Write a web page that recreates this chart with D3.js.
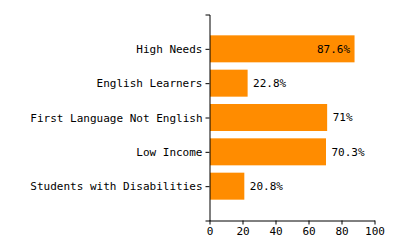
<!DOCTYPE html>
<html><head><meta charset="utf-8">
<script src="https://cdn.jsdelivr.net/npm/d3@7"></script>
<style>
body{margin:0;background:#fff;}
text{font-family:"DejaVu Sans Mono",monospace;font-size:11px;fill:#000;}
</style></head>
<body><svg id="c" width="400" height="250"></svg>
<script>
const categories = ["High Needs","English Learners","First Language Not English","Low Income","Students with Disabilities"];
const values = [87.6, 22.8, 71, 70.3, 20.8];
const valueLabels = ["87.6%","22.8%","71%","70.3%","20.8%"];
const xTicks = [0,20,40,60,80,100];

const svg = d3.select("#c");
const m = {left:209.5, top:14.5, right:25.5, bottom:29.5};
const W = 400, H = 250;
const x = d3.scaleLinear().domain([0,100]).range([m.left, W - m.right]);
const y = d3.scalePoint().domain(categories).range([m.top, H - m.bottom]).padding(1);
const barH = 27;

const data = categories.map((c,i)=>({c, v:values[i], l:valueLabels[i]}));

svg.selectAll("rect.bar").data(data).enter().append("rect")
  .attr("class","bar")
  .attr("x", x(0)+0.5)
  .attr("y", d=>y(d.c)-barH/2)
  .attr("width", d=>x(d.v)-x(0))
  .attr("height", barH)
  .attr("fill","#FF8C00");

svg.selectAll("text.val").data(data).enter().append("text")
  .attr("class","val")
  .attr("x", d=> d.v > 80 ? x(d.v)-4 : x(d.v)+6)
  .attr("y", d=>y(d.c))
  .attr("dy","0.35em")
  .attr("text-anchor", d=> d.v > 80 ? "end" : "start")
  .text(d=>d.l);

const xa = svg.append("g").attr("transform",`translate(0,${H - m.bottom})`)
  .call(d3.axisBottom(x).tickValues(xTicks).tickSize(4).tickSizeOuter(0));
const ya = svg.append("g").attr("transform",`translate(${m.left},0)`)
  .call(d3.axisLeft(y).tickSize(4).tickSizeOuter(4).tickPadding(3));
[xa,ya].forEach(a=>{
  a.selectAll("text").style("font-family","'DejaVu Sans Mono',monospace").style("font-size","11px").attr("fill","#000");
  a.attr("font-family",null).attr("font-size",null);
  a.selectAll("path,line").attr("stroke","#000");
});
</script></body></html>
